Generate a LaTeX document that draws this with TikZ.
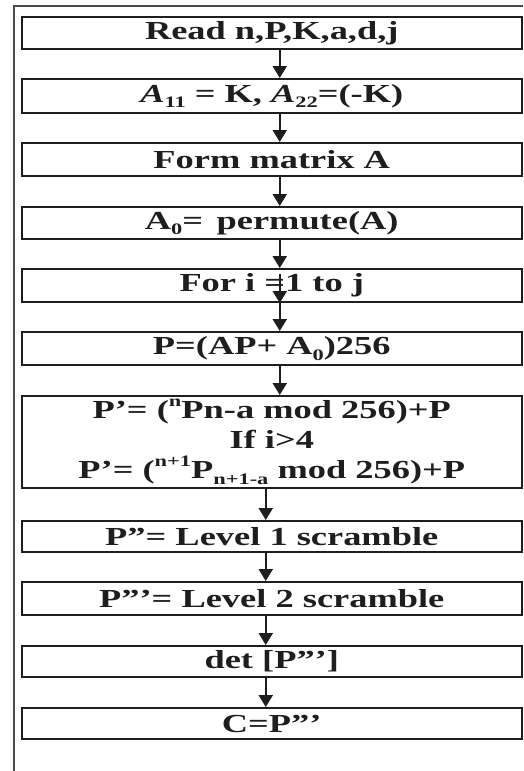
\documentclass[tikz,border=0pt]{standalone}
\usepackage{fontspec}
\setmainfont{Liberation Serif}[FakeStretch=1.4]
\usetikzlibrary{arrows.meta}
\definecolor{ink}{HTML}{1E1E1E}
\definecolor{frame}{HTML}{4A4A4A}
\newcommand{\lowidx}[1]{\raisebox{-0.22em}{\fontsize{16}{16}\selectfont #1}}
\newcommand{\highidx}[1]{\raisebox{0.45em}{\fontsize{16}{16}\selectfont #1}}
\begin{document}
\begin{tikzpicture}[x=1pt,y=-1pt,
  stepbox/.style={draw=ink,line width=2pt,minimum width=499.5pt,inner sep=0pt,
    text=ink,font=\fontsize{26}{30}\selectfont\bfseries,align=center},
  arr/.style={draw=ink,line width=2.2pt,-{Triangle[length=12pt,width=14pt]}}]
\useasboundingbox (0,0) rectangle (523,771);
% outer frame: left and top rules only
\draw[frame,line width=2pt] (14,771) -- (14,6) -- (523,6);
% process steps
\node[stepbox,minimum height=32pt] (b1) at (271.75,33) {Read n,P,K,a,d,j};
\node[stepbox,minimum height=34pt] (b2) at (271.75,96) {\textit{A}\lowidx{11} = K, \textit{A}\lowidx{22}=(-K)};
\node[stepbox,minimum height=33pt] (b3) at (271.75,159.5) {Form matrix A};
\node[stepbox,minimum height=32pt] (b4) at (271.75,223) {A\lowidx{0}=\, permute(A)};
\node[stepbox,minimum height=33pt] (b5) at (271.75,285.5) {For i =1 to j};
\node[stepbox,minimum height=33pt] (b6) at (271.75,348.5) {P=(AP+ A\lowidx{0})256};
\node[stepbox,minimum height=92pt] (b7) at (271.75,442)
  {P’= (\highidx{n}Pn-a mod 256)+P\\ If i>4\\ P’= (\highidx{n+1}P\lowidx{n+1-a} mod 256)+P};
\node[stepbox,minimum height=31pt] (b8) at (271.75,536.5) {P”= Level 1 scramble};
\node[stepbox,minimum height=33pt] (b9) at (271.75,598.5) {P”’= Level 2 scramble};
\node[stepbox,minimum height=31pt] (b10) at (271.75,661.5) {det [P”’]};
\node[stepbox,minimum height=31pt] (b11) at (271.75,723.5) {C=P”’};
% connectors
\draw[arr] ([xshift=8pt]b1.south) -- ([xshift=8pt]b2.north);
\draw[arr] ([xshift=8pt]b2.south) -- ([xshift=8pt]b3.north);
\draw[arr] ([xshift=8pt]b3.south) -- ([xshift=8pt]b4.north);
\draw[arr] ([xshift=8pt]b4.south) -- ([xshift=8pt]b5.north);
\draw[arr] ([xshift=8pt,yshift=-6pt]b5.north) -- ([xshift=8pt]b5.south);
\draw[arr] ([xshift=8pt]b5.south) -- ([xshift=8pt]b6.north);
\draw[arr] ([xshift=8pt]b6.south) -- ([xshift=8pt]b7.north);
\draw[arr] ([xshift=-6pt]b7.south) -- ([xshift=-6pt]b8.north);
\draw[arr] ([xshift=-6pt]b8.south) -- ([xshift=-6pt]b9.north);
\draw[arr] ([xshift=-6pt]b9.south) -- ([xshift=-6pt]b10.north);
\draw[arr] ([xshift=-6pt]b10.south) -- ([xshift=-6pt]b11.north);
\end{tikzpicture}
\end{document}
